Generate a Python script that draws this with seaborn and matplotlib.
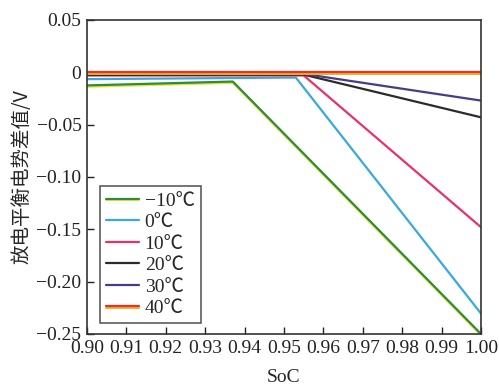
import matplotlib
matplotlib.use("Agg")
import matplotlib.pyplot as plt
import matplotlib.patheffects as pe
import seaborn as sns
import pandas as pd

# SoC breakpoints and discharge equilibrium potential difference (V) per temperature
temps = ["−10℃", "0℃", "10℃", "20℃", "30℃", "40℃"]
soc_m10 = [0.90, 0.937, 1.00]
dv_m10 = [-0.0125, -0.0088, -0.250]
soc_0 = [0.90, 0.953, 1.00]
dv_0 = [-0.0065, -0.0050, -0.2305]
soc_10 = [0.90, 0.955, 1.00]
dv_10 = [-0.0030, -0.0030, -0.1480]
soc_20 = [0.90, 0.955, 1.00]
dv_20 = [-0.0025, -0.0022, -0.0430]
soc_30 = [0.90, 0.955, 1.00]
dv_30 = [-0.0015, -0.0015, -0.0270]
soc_40 = [0.90, 0.955, 1.00]
dv_40 = [0.0, 0.0, 0.0]

colors = ["#2e8b3e", "#3aa8e0", "#e8316c", "#2b2b2b", "#4a3a8a", "#e8302c"]
under = {"−10℃": "#e6e52a", "40℃": "#f2b01e"}

xticks = [0.90, 0.91, 0.92, 0.93, 0.94, 0.95, 0.96, 0.97, 0.98, 0.99, 1.00]
yticks = [0.05, 0.0, -0.05, -0.10, -0.15, -0.20, -0.25]
ytick_labels = ["0.05", "0", "−0.05", "−0.10", "−0.15", "−0.20", "−0.25"]

frames = []
for t, s, v in zip(temps, [soc_m10, soc_0, soc_10, soc_20, soc_30, soc_40],
                   [dv_m10, dv_0, dv_10, dv_20, dv_30, dv_40]):
    frames.append(pd.DataFrame({"SoC": s, "dV": v, "T": t}))
df = pd.concat(frames, ignore_index=True)

sns.set_style("white")
plt.rcParams["font.family"] = ["Liberation Serif", "Noto Sans CJK SC"]
plt.rcParams["mathtext.fontset"] = "stix"

fig = plt.figure(figsize=(4.99, 3.89), dpi=100)
ax = fig.add_axes([0.1743, 0.1414, 0.7897, 0.8072])

sns.lineplot(data=df, x="SoC", y="dV", hue="T", hue_order=temps,
             palette=colors, linewidth=1.6, ax=ax, legend=True)

for line, t in zip(ax.get_lines(), temps):
    if t in under:
        line.set_path_effects([
            pe.Stroke(offset=(0, -1.0), linewidth=1.4, foreground=under[t]),
            pe.Normal(),
        ])

ax.set_xlim(0.90, 1.00)
ax.set_ylim(-0.25, 0.05)
ax.set_xticks(xticks)
ax.set_xticklabels([f"{x:.2f}" for x in xticks])
ax.set_yticks(yticks)
ax.set_yticklabels(ytick_labels)
ax.tick_params(direction="in", length=5, width=1, labelsize=14, colors="#222222",
               bottom=True, left=True, top=False, right=False, pad=4)

for sp in ax.spines.values():
    sp.set_color("#333333")
    sp.set_linewidth(1.2)

ax.set_xlabel("SoC", fontsize=14, labelpad=9)
ax.set_ylabel("放电平衡电势差值/V", fontsize=14, labelpad=3,
              family=["Noto Sans CJK SC", "DejaVu Sans"])

handles, labels = ax.get_legend_handles_labels()
for h, t in zip(handles, labels):
    if t in under:
        h.set_path_effects([
            pe.Stroke(offset=(0, -1.0), linewidth=1.4, foreground=under[t]),
            pe.Normal(),
        ])
leg = ax.legend(handles, labels, loc="lower left", bbox_to_anchor=(0.033, 0.035),
                fontsize=14, frameon=True, fancybox=False, handlelength=1.7,
                handletextpad=0.3, labelspacing=0.2, borderpad=0.3,
                borderaxespad=0)
leg.get_frame().set_edgecolor("#333333")
leg.get_frame().set_linewidth(1.2)

fig.savefig("out.png", dpi=100, facecolor="white")
